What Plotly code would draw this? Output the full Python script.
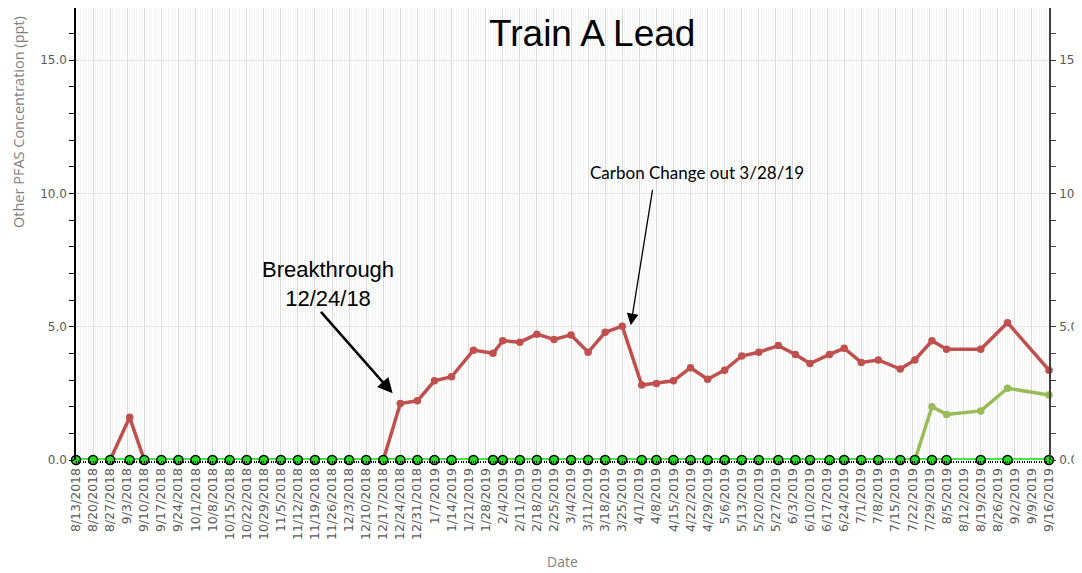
import plotly.graph_objects as go

# ---------------- data ----------------
dates = [
    "2018-08-13", "2018-08-20", "2018-08-27", "2018-09-04", "2018-09-10", "2018-09-17",
    "2018-09-24", "2018-10-01", "2018-10-08", "2018-10-15", "2018-10-22", "2018-10-29",
    "2018-11-05", "2018-11-12", "2018-11-19", "2018-11-26", "2018-12-03", "2018-12-10",
    "2018-12-17", "2018-12-24", "2018-12-31",
    "2019-01-07", "2019-01-14", "2019-01-23", "2019-01-31", "2019-02-04", "2019-02-11",
    "2019-02-18", "2019-02-25", "2019-03-04", "2019-03-11", "2019-03-18", "2019-03-25",
    "2019-04-02", "2019-04-08", "2019-04-15", "2019-04-22", "2019-04-29", "2019-05-06",
    "2019-05-13", "2019-05-20", "2019-05-28", "2019-06-04", "2019-06-10", "2019-06-18",
    "2019-06-24", "2019-07-01", "2019-07-08", "2019-07-17", "2019-07-23", "2019-07-30",
    "2019-08-05", "2019-08-19", "2019-08-30", "2019-09-16",
]

lead_red = [
    0, 0, 0, 1.60, 0, 0, 0, 0, 0, 0, 0, 0, 0, 0, 0, 0, 0, 0, 0, 2.12, 2.22,
    2.97, 3.12, 4.12, 4.00, 4.47, 4.42, 4.72, 4.52, 4.69, 4.04, 4.79, 5.02,
    2.81, 2.87, 2.97, 3.46, 3.03, 3.37, 3.90, 4.04, 4.29, 3.96, 3.62, 3.96,
    4.19, 3.66, 3.75, 3.41, 3.75, 4.47, 4.15, 4.15, 5.15, 3.37,
]

lead_olive = [0] * 49 + [0, 2.00, 1.71, 1.84, 2.69, 2.44]

non_detect = [0] * len(dates)

title_text = "Train A Lead"
y_title = "Other PFAS Concentration (ppt)"
x_title = "Date"
note_breakthrough = "Breakthrough<br>12/24/18"
note_carbon = "Carbon Change out 3/28/19"

# ---------------- layout helpers ----------------
# target plot-area edges on screen; the page body adds an 8px offset
PAGE_OFFSET = 8
X0, X1, Y0, Y1 = 76, 1049, 8, 460
W, H = 1082, 573


def px(x):
    return (x - X0) / (X1 - X0)


def py(y):
    return (Y1 - y) / (Y1 - Y0)


TICK_GRAY = "#595959"
TITLE_GRAY = "#7f7f7f"

fig = go.Figure()

fig.add_trace(go.Scatter(
    x=dates, y=lead_red, mode="lines+markers",
    line=dict(color="#c0504d", width=3.5),
    marker=dict(color="#c0504d", size=7.5),
    cliponaxis=False, showlegend=False, hoverinfo="x+y",
))
fig.add_trace(go.Scatter(
    x=dates, y=lead_olive, mode="lines+markers",
    line=dict(color="#9bbb59", width=3.5),
    marker=dict(color="#9bbb59", size=7.5),
    cliponaxis=False, showlegend=False, hoverinfo="x+y",
))
fig.add_trace(go.Scatter(
    x=dates, y=non_detect, mode="lines+markers",
    line=dict(color="#44e844", width=4),
    marker=dict(color="#22dd22", size=9, line=dict(color="#000000", width=1.5)),
    cliponaxis=False, showlegend=False, hoverinfo="x+y",
))
# invisible trace to anchor the right-hand axis
fig.add_trace(go.Scatter(
    x=dates, y=non_detect, yaxis="y2", mode="lines",
    line=dict(width=0), opacity=0, showlegend=False, hoverinfo="skip",
))

fig.update_layout(
    width=W, height=H,
    margin=dict(l=X0 - PAGE_OFFSET, r=W - (X1 - PAGE_OFFSET), t=Y0 - PAGE_OFFSET,
                b=H - (Y1 - PAGE_OFFSET), autoexpand=False),
    paper_bgcolor="white",
    plot_bgcolor="white",
    showlegend=False,
    font=dict(family="DejaVu Sans", color=TICK_GRAY, size=12),
    xaxis=dict(
        type="date", automargin=False,
        range=["2018-08-13", "2019-09-16"],
        tick0="2018-08-13", dtick=7 * 86400000,
        tickformat="%-m/%-d/%Y", tickangle=-90,
        tickfont=dict(family="DejaVu Sans", size=12.5, color=TICK_GRAY),
        showgrid=True, gridcolor="#d9d9d9", gridwidth=1,
        ticks="outside", ticklen=2, tickcolor="#000000",
        minor=dict(dtick=86400000, showgrid=True, gridcolor="#f4f4f4",
                   ticks="outside", ticklen=2, tickcolor="#000000"),
        showline=False, zeroline=False,
    ),
    yaxis=dict(
        automargin=False,
        range=[0, 16.95], dtick=5, tick0=0, tickformat=".1f",
        tickfont=dict(family="DejaVu Sans", size=12, color=TICK_GRAY),
        showgrid=True, gridcolor="#e4e4e4",
        ticks="outside", ticklen=5, tickcolor="#000000",
        minor=dict(dtick=1, ticks="outside", ticklen=5, tickcolor="#000000", showgrid=False),
        showline=True, linecolor="#000000", linewidth=1.5,
        zeroline=False,
    ),
    yaxis2=dict(
        automargin=False,
        overlaying="y", side="right",
        range=[0, 16.95], dtick=5, tick0=0, tickformat=".1f",
        tickfont=dict(family="DejaVu Sans", size=12, color=TICK_GRAY),
        ticklabelstandoff=1,
        showgrid=False,
        ticks="outside", ticklen=5, tickcolor="#404040",
        minor=dict(dtick=1, ticks="outside", ticklen=5, tickcolor="#404040"),
        showline=True, linecolor="#404040", linewidth=1.5,
        zeroline=False,
    ),
)

annotations = [
    dict(text=title_text, xref="paper", yref="paper", x=px(592), y=py(33),
         xanchor="center", yanchor="middle", showarrow=False,
         font=dict(family="Liberation Sans, Arial, sans-serif", size=37, color="#000000")),
    dict(text=y_title, xref="paper", yref="paper", x=px(19), y=py(122),
         xanchor="center", yanchor="middle", showarrow=False, textangle=-90,
         font=dict(family="Open Sans, DejaVu Sans", size=14.5, color=TITLE_GRAY)),
    dict(text=x_title, xref="paper", yref="paper", x=px(562), y=py(561),
         xanchor="center", yanchor="middle", showarrow=False,
         font=dict(family="Open Sans, DejaVu Sans", size=14, color=TITLE_GRAY)),
    dict(text=note_breakthrough, xref="paper", yref="paper", x=px(328), y=py(284),
         xanchor="center", yanchor="middle", showarrow=False,
         font=dict(family="Liberation Sans, Arial, sans-serif", size=22, color="#000000")),
    dict(text=note_carbon, xref="paper", yref="paper", x=px(697), y=py(173),
         xanchor="center", yanchor="middle", showarrow=False,
         font=dict(family="Lato, Open Sans", size=17, color="#000000")),
    # arrows
    dict(text="", xref="x", yref="y", x="2018-12-20 20:00", y=2.5,
         ax=-73, ay=-83, axref="pixel", ayref="pixel",
         showarrow=True, arrowhead=2, arrowsize=1.2, arrowwidth=2.5, arrowcolor="#000000"),
    dict(text="", xref="x", yref="y", x="2019-03-28 12:00", y=5.05,
         ax=22, ay=-137, axref="pixel", ayref="pixel",
         showarrow=True, arrowhead=2, arrowsize=1.8, arrowwidth=1.3, arrowcolor="#000000"),
]
fig.update_layout(annotations=annotations)

fig.write_html("out.html")
